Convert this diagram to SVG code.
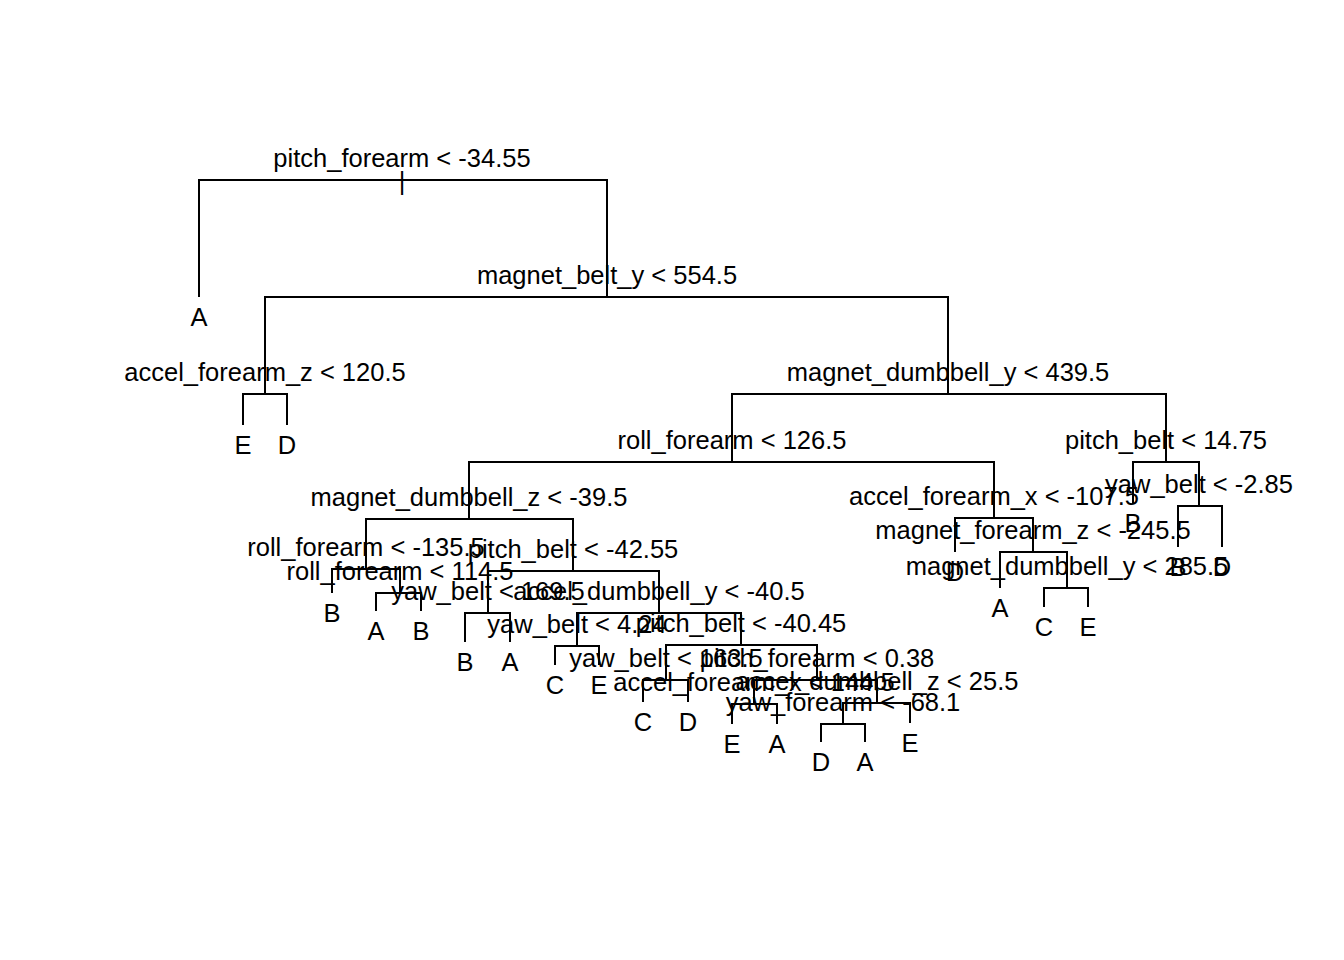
<svg xmlns="http://www.w3.org/2000/svg" width="1344" height="960" viewBox="0 0 1344 960">
<style>
.e{fill:none;stroke:#000;stroke-width:2;stroke-linecap:butt}
text{font-family:"Liberation Sans",Arial,Helvetica,sans-serif;font-size:25.5px;fill:#000;text-anchor:middle}
</style>
<rect width="1344" height="960" fill="#fff"/>
<g id="connectors">
<path class="e" d="M402 180H199V297"/>
<path class="e" d="M402 180H607V297"/>
<path class="e" d="M607 297H265V394"/>
<path class="e" d="M607 297H948V394"/>
<path class="e" d="M265 394H243V425"/>
<path class="e" d="M265 394H287V425"/>
<path class="e" d="M948 394H732V462"/>
<path class="e" d="M948 394H1166V462"/>
<path class="e" d="M732 462H469V519"/>
<path class="e" d="M732 462H994V518"/>
<path class="e" d="M1166 462H1133V503"/>
<path class="e" d="M1166 462H1199V506"/>
<path class="e" d="M1199 506H1178V547"/>
<path class="e" d="M1199 506H1222V547"/>
<path class="e" d="M994 518H955V552"/>
<path class="e" d="M994 518H1033V552"/>
<path class="e" d="M1033 552H1000V588"/>
<path class="e" d="M1033 552H1067V588"/>
<path class="e" d="M1067 588H1044V607"/>
<path class="e" d="M1067 588H1088V607"/>
<path class="e" d="M469 519H366V569"/>
<path class="e" d="M469 519H573V571"/>
<path class="e" d="M366 569H332V593"/>
<path class="e" d="M366 569H400V593"/>
<path class="e" d="M400 593H376V611"/>
<path class="e" d="M400 593H421V611"/>
<path class="e" d="M573 571H488V613"/>
<path class="e" d="M573 571H659V613"/>
<path class="e" d="M488 613H465V642"/>
<path class="e" d="M488 613H510V642"/>
<path class="e" d="M659 613H577V646"/>
<path class="e" d="M659 613H741V645"/>
<path class="e" d="M577 646H555V665"/>
<path class="e" d="M577 646H599V665"/>
<path class="e" d="M741 645H666V680"/>
<path class="e" d="M741 645H817V680"/>
<path class="e" d="M666 680H643V702"/>
<path class="e" d="M666 680H688V702"/>
<path class="e" d="M817 680H754V704"/>
<path class="e" d="M817 680H877V703"/>
<path class="e" d="M754 704H732V724"/>
<path class="e" d="M754 704H777V724"/>
<path class="e" d="M877 703H843V724"/>
<path class="e" d="M877 703H910V723"/>
<path class="e" d="M843 724H821V742"/>
<path class="e" d="M843 724H865V742"/>
</g>
<g id="n1"><text x="402" y="167">pitch_forearm &lt; -34.55</text><text x="402" y="190">|</text></g>
<g id="n2"><text x="199" y="326">A</text></g>
<g id="n3"><text x="607" y="284">magnet_belt_y &lt; 554.5</text></g>
<g id="n6"><text x="265" y="381">accel_forearm_z &lt; 120.5</text></g>
<g id="n12"><text x="243" y="454">E</text></g>
<g id="n13"><text x="287" y="454">D</text></g>
<g id="n7"><text x="948" y="381">magnet_dumbbell_y &lt; 439.5</text></g>
<g id="n14"><text x="732" y="449">roll_forearm &lt; 126.5</text></g>
<g id="n15"><text x="1166" y="449">pitch_belt &lt; 14.75</text></g>
<g id="n30"><text x="1133" y="532">B</text></g>
<g id="n31"><text x="1199" y="493">yaw_belt &lt; -2.85</text></g>
<g id="n62"><text x="1178" y="576">B</text></g>
<g id="n63"><text x="1222" y="576">D</text></g>
<g id="n28"><text x="469" y="506">magnet_dumbbell_z &lt; -39.5</text></g>
<g id="n29"><text x="994" y="505">accel_forearm_x &lt; -107.5</text></g>
<g id="n58"><text x="955" y="581">D</text></g>
<g id="n59"><text x="1033" y="539">magnet_forearm_z &lt; -245.5</text></g>
<g id="n118"><text x="1000" y="617">A</text></g>
<g id="n119"><text x="1067" y="575">magnet_dumbbell_y &lt; 285.5</text></g>
<g id="n238"><text x="1044" y="636">C</text></g>
<g id="n239"><text x="1088" y="636">E</text></g>
<g id="n56"><text x="366" y="556">roll_forearm &lt; -135.5</text></g>
<g id="n112"><text x="332" y="622">B</text></g>
<g id="n113"><text x="400" y="580">roll_forearm &lt; 114.5</text></g>
<g id="n226"><text x="376" y="640">A</text></g>
<g id="n227"><text x="421" y="640">B</text></g>
<g id="n57"><text x="573" y="558">pitch_belt &lt; -42.55</text></g>
<g id="n114"><text x="488" y="600">yaw_belt &lt; 169.5</text></g>
<g id="n228"><text x="465" y="671">B</text></g>
<g id="n229"><text x="510" y="671">A</text></g>
<g id="n115"><text x="659" y="600">accel_dumbbell_y &lt; -40.5</text></g>
<g id="n230"><text x="577" y="633">yaw_belt &lt; 4.24</text></g>
<g id="n460"><text x="555" y="694">C</text></g>
<g id="n461"><text x="599" y="694">E</text></g>
<g id="n231"><text x="741" y="632">pitch_belt &lt; -40.45</text></g>
<g id="n462"><text x="666" y="667">yaw_belt &lt; 163.5</text></g>
<g id="n924"><text x="643" y="731">C</text></g>
<g id="n925"><text x="688" y="731">D</text></g>
<g id="n463"><text x="817" y="667">pitch_forearm &lt; 0.38</text></g>
<g id="n926"><text x="754" y="691">accel_forearm_x &lt; 144.5</text></g>
<g id="n1852"><text x="732" y="753">E</text></g>
<g id="n1853"><text x="777" y="753">A</text></g>
<g id="n927"><text x="877" y="690">accel_dumbbell_z &lt; 25.5</text></g>
<g id="n1854"><text x="843" y="711">yaw_forearm &lt; -68.1</text></g>
<g id="n3708"><text x="821" y="771">D</text></g>
<g id="n3709"><text x="865" y="771">A</text></g>
<g id="n1855"><text x="910" y="752">E</text></g>
</svg>
